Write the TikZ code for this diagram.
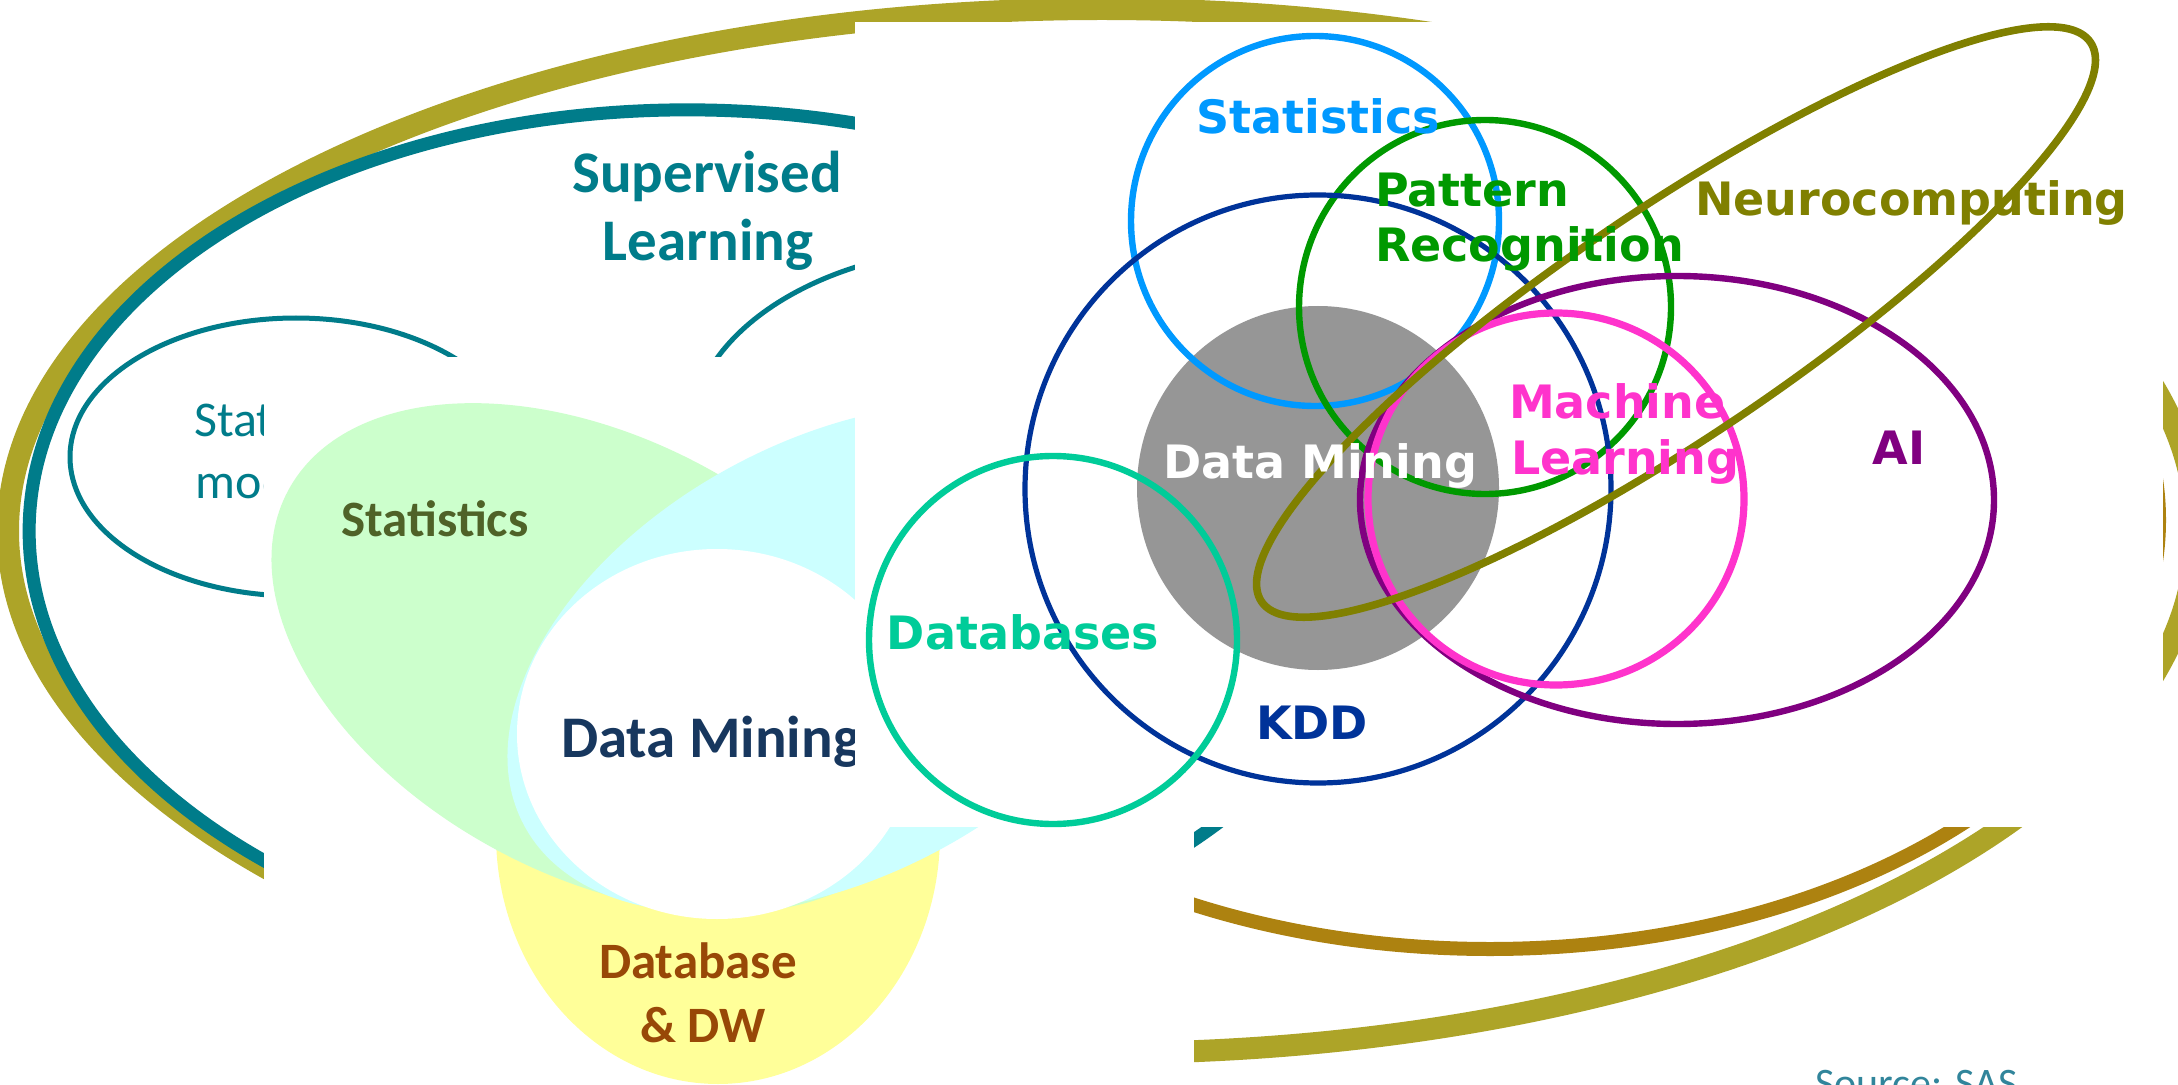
\documentclass[tikz,border=0pt]{standalone}
\usepackage{fontspec}
\newfontfamily\carlitofont{Carlito}
\newfontfamily\dvfont{DejaVu Sans}
\definecolor{olivebg}{RGB}{173,164,40}
\definecolor{tealbg}{RGB}{0,124,138}
\definecolor{brownbg}{RGB}{173,130,16}
\definecolor{srcblue}{RGB}{49,133,155}
\definecolor{mgreen}{RGB}{204,255,204}
\definecolor{mcyan}{RGB}{204,255,255}
\definecolor{myellow}{RGB}{255,255,153}
\definecolor{mstat}{RGB}{79,98,40}
\definecolor{mdm}{RGB}{23,55,94}
\definecolor{mdb}{RGB}{152,72,7}
\definecolor{fstat}{RGB}{0,153,255}
\definecolor{fpr}{RGB}{0,153,0}
\definecolor{fkdd}{RGB}{0,51,153}
\definecolor{fgray}{RGB}{150,150,150}
\definecolor{fdb}{RGB}{0,204,153}
\definecolor{fml}{RGB}{255,51,204}
\definecolor{fai}{RGB}{128,0,128}
\definecolor{fneuro}{RGB}{128,128,0}
\begin{document}
\begin{tikzpicture}[x=0.5pt,y=-0.5pt,
  lbl/.style={inner sep=0pt, outer sep=0pt},
  bgbold/.style={lbl, font=\carlitofont\bfseries\fontsize{29.5}{34}\selectfont, text=tealbg},
  bgreg/.style={lbl, font=\carlitofont\fontsize{25}{30}\selectfont, text=tealbg},
  srcstyle/.style={lbl, font=\carlitofont\fontsize{21}{25}\selectfont, text=srcblue},
  midbold/.style={lbl, font=\carlitofont\bfseries\fontsize{25.5}{32}\selectfont},
  frontlbl/.style={lbl, font=\dvfont\bfseries\fontsize{23}{27.6}\selectfont},
  ring/.style={line width=3.2pt}
]
\useasboundingbox (0,0) rectangle (2178,1085);
\clip (0,0) rectangle (2178,1085);
\fill[white] (0,0) rectangle (2178,1085);

% ---------- background slide ----------
\draw[olivebg, line width=11pt] (1102,531) ellipse [x radius=1094, y radius=522];
\draw[tealbg, line width=6.5pt, rotate around={-1.3:(702,540)}] (702,540) ellipse [x radius=673, y radius=430];
\draw[brownbg, line width=7pt] (1490,520) ellipse [x radius=669, y radius=429];
\draw[tealbg, line width=2.5pt] (296,457) ellipse [x radius=226, y radius=139];
\draw[tealbg, line width=2.5pt] (990,437) ellipse [x radius=300, y radius=190];
\node[bgbold, anchor=base] (sup1) at (707,193) {Supervised};
\node[bgbold, anchor=base] (sup2) at (708,261) {Learning};
\node[bgreg, anchor=base] (sm1) at (291,437) {Statistical};
\node[bgreg, anchor=base] (sm2) at (291,498) {modeling};
\node[srcstyle, anchor=base west] (src) at (1815,1097) {Source: SAS};

% ---------- middle slide ----------
\begin{scope}
\clip (264,357) rectangle (1194,1085);
\fill[white] (264,357) rectangle (1194,1085);
\fill[myellow] (718,834) ellipse [x radius=222, y radius=250];
\fill[mgreen, rotate around={-28.25:(600,658)}] (600,658) ellipse [x radius=354, y radius=218];
\fill[mcyan, rotate around={28.25:(836,658)}] (836,658) ellipse [x radius=354, y radius=218];
\fill[white] (717,734) ellipse [x radius=200, y radius=185];
\node[midbold, text=mstat, anchor=base] (mstats) at (435,536) {Statistics};
\node[midbold, text=mdm, anchor=base west, font=\carlitofont\bfseries\fontsize{29.5}{34}\selectfont] (mdmtext) at (561,757) {Data Mining};
\node[midbold, text=mdb, anchor=base] (mdb1) at (698,978) {Database};
\node[midbold, text=mdb, anchor=base] (mdb2) at (703,1042) {\& DW};
\end{scope}

% ---------- front slide ----------
\begin{scope}
\clip (855,22) rectangle (2163,827);
\fill[white] (855,22) rectangle (2163,827);
\fill[fgray] (1318,488) ellipse [x radius=181, y radius=182];
\draw[fstat, ring] (1315,221) ellipse [x radius=184, y radius=185];
\draw[fpr, ring] (1485,307) ellipse [x radius=186, y radius=187];
\draw[fkdd, line width=2.6pt] (1318,489) ellipse [x radius=293, y radius=294];
\draw[fdb, ring] (1053,640) ellipse [x radius=184, y radius=184];
\draw[fai, ring] (1677,500) ellipse [x radius=317, y radius=224];
\draw[fml, line width=3.6pt] (1556,499) ellipse [x radius=188, y radius=186];
\draw[fneuro, line width=3.8pt, rotate around={34:(1676,322)}] (1676,322) ellipse [x radius=500, y radius=114];
\node[frontlbl, text=fstat, anchor=base] (fstats) at (1318,134) {Statistics};
\node[frontlbl, text=fpr, anchor=base west] (fpr1) at (1375,207) {Pattern};
\node[frontlbl, text=fpr, anchor=base west] (fpr2) at (1375,262) {Recognition};
\node[frontlbl, text=fneuro, anchor=base west] (fneu) at (1695,216) {Neurocomputing};
\node[frontlbl, text=fml, anchor=base west] (fml1) at (1509,418) {Machine};
\node[frontlbl, text=fml, anchor=base west] (fml2) at (1511,474) {Learning};
\node[frontlbl, text=fai, anchor=base] (fait) at (1899,464) {AI};
\node[frontlbl, text=white, anchor=base] (fdm) at (1320,478) {Data Mining};
\node[frontlbl, text=fkdd, anchor=base] (fkddt) at (1312,739) {KDD};
\node[frontlbl, text=fdb, anchor=base] (fdbt) at (1023,649) {Databases};
\end{scope}
\end{tikzpicture}
\end{document}
